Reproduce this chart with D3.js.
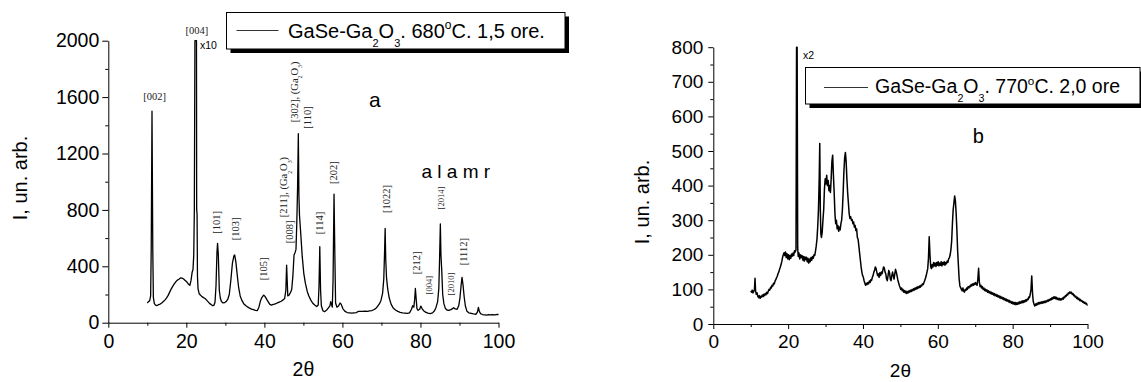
<!DOCTYPE html>
<html>
<head>
<meta charset="utf-8">
<script src="https://cdn.jsdelivr.net/npm/d3@7"></script>
<style>
  body { margin: 0; background: #fff; }
  svg { display: block; }
  text { font-family: "Liberation Sans", Arial, sans-serif; fill: #000; }
  .hkl { font-family: "Liberation Serif", "Times New Roman", serif; fill: #222; }
</style>
</head>
<body>
<div id="chart"></div>
<script>
// panel a: GaSe-Ga2O3, 680 C, 1.5 h  [2theta, I]
const scanA = [
  [10.0,140],[10.3,150],[10.6,155],[10.85,190],[11.0,520],[11.2,1500],[11.4,520],[11.55,180],[11.8,135],[12.1,125],
  [12.5,122],[12.9,128],[13.3,132],[13.7,140],[14.1,150],[14.5,160],[14.9,175],[15.3,192],[15.7,215],[16.1,238],
  [16.5,258],[16.9,275],[17.3,290],[17.7,302],[18.1,308],[18.5,318],[18.9,316],[19.3,310],[19.7,300],[20.1,290],
  [20.5,275],[20.9,265],[21.2,300],[21.5,360],[21.7,375],[21.9,480],[22.05,800],[22.2,2000],[22.6,2000],[22.65,800],
  [22.75,770],[22.85,330],[23.0,240],[23.3,205],[23.6,196],[24.0,185],[24.4,178],[24.8,172],[25.2,160],[25.6,148],
  [26.0,135],[26.4,128],[26.8,120],[27.1,125],[27.35,145],[27.6,260],[27.85,500],[28.0,563],[28.2,480],[28.45,230],
  [28.7,175],[29.0,150],[29.4,140],[29.8,142],[30.2,150],[30.6,165],[31.0,200],[31.4,300],[31.8,420],[32.2,475],
  [32.4,480],[32.7,430],[33.0,350],[33.4,250],[33.8,190],[34.2,160],[34.7,135],[35.2,122],[35.7,112],[36.2,103],
  [36.7,96],[37.2,92],[37.7,88],[38.2,86],[38.6,110],[39.0,155],[39.4,180],[39.8,196],[40.2,185],[40.6,165],
  [41.0,148],[41.4,130],[41.8,125],[42.3,130],[42.8,133],[43.3,140],[43.8,146],[44.3,152],[44.8,162],[45.2,172],
  [45.5,230],[45.7,409],[45.85,300],[46.0,190],[46.3,195],[46.7,215],[47.0,235],[47.3,330],[47.6,480],[47.9,500],
  [48.1,520],[48.3,700],[48.5,950],[48.7,1340],[48.85,900],[49.0,760],[49.3,640],[49.7,470],[50.1,350],[50.5,280],
  [51.0,220],[51.4,190],[51.9,160],[52.4,138],[52.9,125],[53.4,115],[53.8,125],[54.0,260],[54.2,539],[54.4,230],
  [54.6,120],[55.0,85],[55.4,78],[55.9,88],[56.4,105],[56.8,120],[57.0,150],[57.2,130],[57.4,110],[57.6,300],
  [57.85,912],[58.05,500],[58.25,140],[58.6,110],[59.0,118],[59.4,140],[59.7,130],[60.1,100],[60.6,82],[61.2,72],
  [61.8,70],[62.4,68],[63.0,70],[63.6,72],[64.1,80],[64.6,81],[65.2,80],[65.8,82],[66.4,81],[67.0,84],
  [67.5,86],[68.0,92],[68.5,100],[69.0,115],[69.5,135],[69.9,160],[70.3,210],[70.6,310],[70.8,500],[70.95,669],
  [71.1,450],[71.3,320],[71.6,240],[72.0,175],[72.5,130],[73.0,105],[73.6,90],[74.2,80],[74.8,74],[75.4,70],
  [76.0,68],[76.6,66],[77.2,70],[77.7,95],[78.0,120],[78.3,110],[78.5,160],[78.7,243],[78.9,170],[79.1,100],
  [79.4,88],[79.8,95],[80.1,118],[80.4,100],[80.8,85],[81.3,75],[81.9,68],[82.5,65],[83.1,70],[83.6,85],
  [84.0,110],[84.4,150],[84.7,240],[84.9,450],[85.1,700],[85.25,480],[85.45,373],[85.7,200],[86.0,135],[86.4,100],
  [86.8,90],[87.3,88],[87.8,92],[88.2,100],[88.5,106],[88.9,98],[89.4,95],[89.8,120],[90.1,170],[90.4,260],
  [90.65,321],[90.9,270],[91.2,184],[91.5,120],[91.9,82],[92.4,70],[93.0,66],[93.6,62],[94.2,60],[94.6,75],
  [94.85,109],[95.1,80],[95.4,64],[95.9,58],[96.5,56],[97.0,54],[97.5,58],[98.0,55],[98.5,57],[99.0,55],
  [99.5,58],[100.0,58]
];

// panel b: GaSe-Ga2O3, 770 C, 2.0 h  [2theta, I]
const scanB = [
  [10.0,95],[10.2,92],[10.4,98],[10.6,90],[10.8,94],[11.0,100],[11.15,132],[11.3,95],[11.5,86],[11.7,90],
  [11.9,80],[12.1,76],[12.3,82],[12.5,74],[12.7,80],[12.9,78],[13.1,84],[13.3,79],[13.5,86],[13.7,82],
  [13.9,88],[14.1,85],[14.3,92],[14.5,88],[14.7,95],[14.9,100],[15.1,98],[15.3,106],[15.5,104],[15.7,112],
  [15.9,110],[16.1,118],[16.3,116],[16.5,124],[16.7,128],[16.9,134],[17.1,138],[17.3,146],[17.5,150],[17.7,158],
  [17.9,164],[18.1,172],[18.3,180],[18.5,192],[18.7,200],[18.9,206],[19.1,198],[19.3,208],[19.5,192],[19.7,203],
  [19.9,188],[20.1,200],[20.3,186],[20.5,198],[20.7,190],[20.9,202],[21.1,196],[21.3,205],[21.5,198],[21.7,212],
  [21.9,208],[22.1,215],[22.25,800],[22.4,800],[22.55,220],[22.7,195],[22.9,205],[23.1,188],[23.3,200],[23.5,192],
  [23.7,198],[23.9,185],[24.1,195],[24.3,182],[24.5,194],[24.7,186],[24.9,193],[25.1,180],[25.3,190],[25.5,176],
  [25.7,188],[25.9,180],[26.1,192],[26.3,184],[26.5,195],[26.7,190],[26.9,200],[27.1,198],[27.3,210],[27.5,225],
  [27.7,245],[27.9,280],[28.1,330],[28.3,420],[28.45,522],[28.6,330],[28.75,260],[28.9,250],[29.1,265],[29.3,300],
  [29.5,330],[29.7,390],[29.9,420],[30.1,405],[30.3,430],[30.5,400],[30.7,415],[30.9,385],[31.1,400],[31.3,380],
  [31.5,420],[31.7,470],[31.9,488],[32.1,430],[32.3,380],[32.5,320],[32.7,290],[32.9,300],[33.1,275],[33.3,285],
  [33.5,268],[33.7,280],[33.9,272],[34.1,290],[34.3,300],[34.5,330],[34.7,380],[34.9,440],[35.1,480],[35.3,496],
  [35.5,470],[35.7,420],[35.9,380],[36.1,350],[36.3,320],[36.5,305],[36.7,310],[36.9,300],[37.1,302],[37.3,290],
  [37.5,295],[37.7,280],[37.9,285],[38.1,270],[38.3,275],[38.5,250],[38.7,245],[38.9,225],[39.1,205],[39.3,185],
  [39.5,165],[39.7,150],[39.9,140],[40.1,135],[40.3,125],[40.5,118],[40.7,112],[40.9,118],[41.1,114],[41.3,120],
  [41.5,116],[41.7,124],[41.9,120],[42.1,128],[42.3,126],[42.5,135],[42.7,140],[42.9,150],[43.1,155],[43.3,165],
  [43.5,160],[43.7,150],[43.9,140],[44.1,145],[44.3,135],[44.5,148],[44.7,140],[44.9,150],[45.1,145],[45.3,155],
  [45.5,165],[45.7,162],[45.9,150],[46.1,145],[46.3,130],[46.5,125],[46.7,140],[46.9,155],[47.1,148],[47.3,130],
  [47.5,125],[47.7,140],[47.9,150],[48.1,140],[48.3,130],[48.5,145],[48.7,158],[48.9,150],[49.1,140],[49.3,128],
  [49.5,120],[49.7,112],[49.9,106],[50.1,100],[50.3,104],[50.5,96],[50.7,100],[50.9,92],[51.1,97],[51.3,90],
  [51.5,95],[51.7,88],[51.9,94],[52.1,90],[52.3,96],[52.5,92],[52.7,98],[52.9,94],[53.1,100],[53.3,96],
  [53.5,102],[53.7,98],[53.9,104],[54.1,100],[54.3,106],[54.5,102],[54.7,108],[54.9,104],[55.1,110],[55.3,106],
  [55.5,112],[55.7,110],[55.9,116],[56.1,114],[56.3,120],[56.5,126],[56.7,132],[56.9,140],[57.1,150],[57.3,160],
  [57.5,190],[57.7,252],[57.9,200],[58.1,165],[58.3,160],[58.5,172],[58.7,165],[58.9,178],[59.1,168],[59.3,176],
  [59.5,166],[59.7,178],[59.9,170],[60.1,180],[60.3,168],[60.5,176],[60.7,170],[60.9,180],[61.1,168],[61.3,178],
  [61.5,172],[61.7,180],[61.9,170],[62.1,178],[62.3,174],[62.5,182],[62.7,178],[62.9,188],[63.1,192],[63.3,200],
  [63.5,215],[63.7,240],[63.9,290],[64.1,330],[64.3,350],[64.5,370],[64.7,355],[64.9,320],[65.1,270],[65.3,210],
  [65.5,170],[65.7,130],[65.9,110],[66.1,105],[66.3,100],[66.5,96],[66.7,104],[66.9,95],[67.1,92],[67.3,100],
  [67.5,97],[67.7,104],[67.9,100],[68.1,108],[68.3,104],[68.5,110],[68.7,108],[68.9,114],[69.1,110],[69.3,116],
  [69.5,112],[69.7,118],[69.9,114],[70.1,120],[70.3,115],[70.5,112],[70.7,130],[70.9,161],[71.1,120],[71.3,108],
  [71.5,112],[71.7,104],[71.9,108],[72.1,100],[72.3,104],[72.5,97],[72.7,101],[72.9,95],[73.1,99],[73.3,92],
  [73.5,96],[73.7,90],[73.9,94],[74.1,88],[74.3,92],[74.5,86],[74.7,90],[74.9,84],[75.1,88],[75.3,82],
  [75.5,86],[75.7,80],[75.9,84],[76.1,78],[76.3,82],[76.5,76],[76.7,80],[76.9,74],[77.1,78],[77.3,72],
  [77.5,76],[77.7,70],[77.9,74],[78.1,68],[78.3,72],[78.5,66],[78.7,70],[78.9,64],[79.1,68],[79.3,62],
  [79.5,66],[79.7,60],[79.9,64],[80.1,58],[80.3,63],[80.5,57],[80.7,62],[80.9,56],[81.1,61],[81.3,57],
  [81.5,63],[81.7,58],[81.9,64],[82.1,60],[82.3,66],[82.5,61],[82.7,67],[82.9,62],[83.1,68],[83.3,64],
  [83.5,70],[83.7,66],[83.9,72],[84.1,70],[84.3,78],[84.5,76],[84.7,86],[84.9,100],[85.1,139],[85.3,90],
  [85.5,65],[85.7,58],[85.9,52],[86.1,58],[86.3,54],[86.5,60],[86.7,56],[86.9,62],[87.1,58],[87.3,63],
  [87.5,59],[87.7,64],[87.9,60],[88.1,65],[88.3,61],[88.5,66],[88.7,62],[88.9,67],[89.1,64],[89.3,69],
  [89.5,66],[89.7,71],[89.9,68],[90.1,73],[90.3,70],[90.5,76],[90.7,72],[90.9,78],[91.1,74],[91.3,79],
  [91.5,73],[91.7,77],[91.9,71],[92.1,75],[92.3,70],[92.5,74],[92.7,69],[92.9,73],[93.1,70],[93.3,75],
  [93.5,72],[93.7,78],[93.9,76],[94.1,82],[94.3,80],[94.5,86],[94.7,84],[94.9,90],[95.1,88],[95.3,93],
  [95.5,89],[95.7,92],[95.9,86],[96.1,88],[96.3,82],[96.5,84],[96.7,78],[96.9,80],[97.1,74],[97.3,77],
  [97.5,71],[97.7,74],[97.9,68],[98.1,71],[98.3,66],[98.5,68],[98.7,63],[98.9,65],[99.1,60],[99.3,63],
  [99.5,58],[99.7,60],[99.9,55],[100.0,56]
];

// tick values
const xTicks = [0, 20, 40, 60, 80, 100];
const xMinor = [10, 30, 50, 70, 90];
const yTicksA = [0, 400, 800, 1200, 1600, 2000];
const yMinorA = [200, 600, 1000, 1400, 1800];
const yTicksB = [0, 100, 200, 300, 400, 500, 600, 700, 800];
const yMinorB = [50, 150, 250, 350, 450, 550, 650, 750];

// reflex labels of panel a: text parts, 2theta, I, rotated?, size
const peakLabelsA = [
  { parts: [['[002]']], x: 11.9, y: 1579, rot: false, size: 10.5 },
  { parts: [['[004]']], x: 22.7, y: 2047, rot: false, size: 10.5 },
  { parts: [['[101]']], x: 27.8, y: 711, rot: true, size: 10.5 },
  { parts: [['[103]']], x: 32.5, y: 665, rot: true, size: 10.5 },
  { parts: [['[105]']], x: 39.7, y: 381, rot: true, size: 10.5 },
  { parts: [['[008]']], x: 46.4, y: 645, rot: true, size: 10.5 },
  { parts: [['[211], (Ga'], ['2', 'sub'], ['O'], ['3', 'sub'], [')']], x: 44.8, y: 962, rot: true, size: 10.5 },
  { parts: [['[302], (Ga'], ['2', 'sub'], ['O'], ['3', 'sub'], [')']], x: 47.6, y: 1637, rot: true, size: 10.5 },
  { parts: [['[110]']], x: 51.1, y: 1455, rot: true, size: 10.5 },
  { parts: [['[114]']], x: 54.2, y: 707, rot: true, size: 10.5 },
  { parts: [['[202]']], x: 57.7, y: 1065, rot: true, size: 10.5 },
  { parts: [['[1022]']], x: 71.2, y: 877, rot: true, size: 10.5 },
  { parts: [['[212]']], x: 78.9, y: 424, rot: true, size: 10.5 },
  { parts: [['[004]']], x: 82.1, y: 267, rot: true, size: 8.5 },
  { parts: [['[2014]']], x: 85.3, y: 884, rot: true, size: 8.5 },
  { parts: [['[2010]']], x: 87.9, y: 274, rot: true, size: 8.5 },
  { parts: [['[1112]']], x: 91.0, y: 504, rot: true, size: 10.5 }
];

const legendA = [['GaSe-Ga'], ['2', 'sub'], ['O'], ['3', 'sub'], ['. 680'], ['o', 'sup'], ['C. 1,5 ore.']];
const legendB = [['GaSe-Ga'], ['2', 'sub'], ['O'], ['3', 'sub'], ['. 770'], ['o', 'sup'], ['C. 2,0 ore']];

const svg = d3.select('#chart')
  .append('svg')
  .attr('width', 1141)
  .attr('height', 382);

// writes text parts (with sub / superscripts) into a text element,
// shifts are in px relative to the parent font size
function addParts(textSel, parts, size) {
  let shift = 0;
  parts.forEach(p => {
    const want = p[1] === 'sub' ? 0.45 * size : p[1] === 'sup' ? -0.45 * size : 0;
    const t = textSel.append('tspan').text(p[0]).attr('dy', want - shift);
    if (p[1] === 'sub') t.attr('font-size', 0.55 * size);
    if (p[1] === 'sup') t.attr('font-size', 0.6 * size);
    shift = want;
  });
}

function drawPanel(cfg) {
  const x = d3.scaleLinear().domain([0, 100]).range(cfg.xRange);
  const y = d3.scaleLinear().domain(cfg.yDomain).range(cfg.yRange);
  const g = svg.append('g');

  // minor ticks
  g.append('g')
    .attr('transform', `translate(0,${cfg.yRange[0]})`)
    .call(d3.axisBottom(x).tickValues(xMinor).tickSize(3).tickFormat(''))
    .call(a => a.select('.domain').remove())
    .call(a => a.selectAll('text').remove());
  g.append('g')
    .attr('transform', `translate(${cfg.xRange[0]},0)`)
    .call(d3.axisLeft(y).tickValues(cfg.yMinor).tickSize(3).tickFormat(''))
    .call(a => a.select('.domain').remove())
    .call(a => a.selectAll('text').remove());

  // major axes
  g.append('g')
    .attr('transform', `translate(0,${cfg.yRange[0]})`)
    .call(d3.axisBottom(x).tickValues(xTicks).tickSize(5).tickSizeOuter(0).tickPadding(cfg.xPad).tickFormat(d3.format('d')))
    .call(a => a.selectAll('text').attr('font-size', cfg.font).attr('font-family', '"Liberation Sans", Arial, sans-serif'));
  g.append('g')
    .attr('transform', `translate(${cfg.xRange[0]},0)`)
    .call(d3.axisLeft(y).tickValues(cfg.yTicks).tickSize(cfg.yTickLen).tickSizeOuter(0).tickPadding(cfg.yPad).tickFormat(d3.format('d')))
    .call(a => a.selectAll('text').attr('font-size', cfg.font).attr('font-family', '"Liberation Sans", Arial, sans-serif'));

  g.selectAll('.domain, .tick line').attr('stroke', '#000').attr('stroke-width', 1);

  // axis titles
  g.append('text')
    .attr('x', (cfg.xRange[0] + cfg.xRange[1]) / 2)
    .attr('y', cfg.xTitleY)
    .attr('text-anchor', 'middle')
    .attr('font-size', cfg.font)
    .text('2\u03b8');
  g.append('text')
    .attr('transform', `translate(${cfg.yTitleX},${cfg.yTitleY}) rotate(-90)`)
    .attr('text-anchor', 'middle')
    .attr('font-size', 20)
    .text('I, un. arb.');

  // the scan
  g.append('path')
    .datum(cfg.data)
    .attr('fill', 'none')
    .attr('stroke', '#000')
    .attr('stroke-width', cfg.lineWidth)
    .attr('stroke-linejoin', 'round')
    .attr('d', d3.line().x(d => x(d[0])).y(d => y(d[1])));

  return { x, y, g };
}

const pa = drawPanel({
  data: scanA, xRange: [108.3, 498.5], yDomain: [0, 2000], yRange: [322.7, 40.7],
  yTicks: yTicksA, yMinor: yMinorA, yTickLen: 6, yPad: 3, xPad: 6, font: 19.5,
  xTitleY: 376, yTitleX: 27, yTitleY: 178, lineWidth: 1.3
});
const pb = drawPanel({
  data: scanB, xRange: [713.3, 1087.5], yDomain: [0, 800], yRange: [324, 47.2],
  yTicks: yTicksB, yMinor: yMinorB, yTickLen: 5, yPad: 5, xPad: 6, font: 19,
  xTitleY: 377, yTitleX: 649, yTitleY: 202, lineWidth: 1.5
});

// reflex labels
peakLabelsA.forEach(l => {
  const t = pa.g.append('text')
    .attr('class', 'hkl')
    .attr('font-size', l.size)
    .attr('text-anchor', 'middle')
    .attr('transform', l.rot
      ? `translate(${pa.x(l.x)},${pa.y(l.y)}) rotate(-90)`
      : `translate(${pa.x(l.x)},${pa.y(l.y)})`)
    .attr('y', l.rot ? 0.35 * l.size : 0);
  addParts(t, l.parts, l.size);
});

// scale notes and panel letters
pa.g.append('text').attr('x', 200).attr('y', 48.5).attr('font-size', 10.5).text('x10');
pb.g.append('text').attr('x', 803).attr('y', 59).attr('font-size', 10.5).text('x2');
pa.g.append('text').attr('x', pa.x(68.3)).attr('y', 107).attr('text-anchor', 'middle').attr('font-size', 21).text('a');
pa.g.append('text').attr('x', 421.5).attr('y', 177.5).attr('font-size', 19).text('a l a m r');
pb.g.append('text').attr('x', pb.x(70.8)).attr('y', 143).attr('text-anchor', 'middle').attr('font-size', 20).text('b');

// legends with drop shadow
function drawLegend(box, lineY, lineX, textX, baseY, size, parts) {
  const lg = svg.append('g');
  lg.append('rect')
    .attr('x', box.x + 4).attr('y', box.y + 4)
    .attr('width', box.w).attr('height', box.h)
    .attr('fill', '#000');
  lg.append('rect')
    .attr('x', box.x).attr('y', box.y)
    .attr('width', box.w).attr('height', box.h)
    .attr('fill', '#fff').attr('stroke', '#000').attr('stroke-width', 1);
  lg.append('line')
    .attr('x1', lineX[0]).attr('x2', lineX[1])
    .attr('y1', lineY).attr('y2', lineY)
    .attr('stroke', '#333').attr('stroke-width', 1);
  const t = lg.append('text').attr('x', textX).attr('y', baseY).attr('font-size', size);
  addParts(t, parts, size);
}

drawLegend({ x: 226.5, y: 12.5, w: 338.5, h: 36.5 }, 30.5, [236.5, 278.5], 288, 38.3, 20, legendA);
drawLegend({ x: 805.5, y: 67.5, w: 334.5, h: 36.5 }, 87.5, [824, 868], 875, 93.3, 19.5, legendB);
</script>
</body>
</html>
